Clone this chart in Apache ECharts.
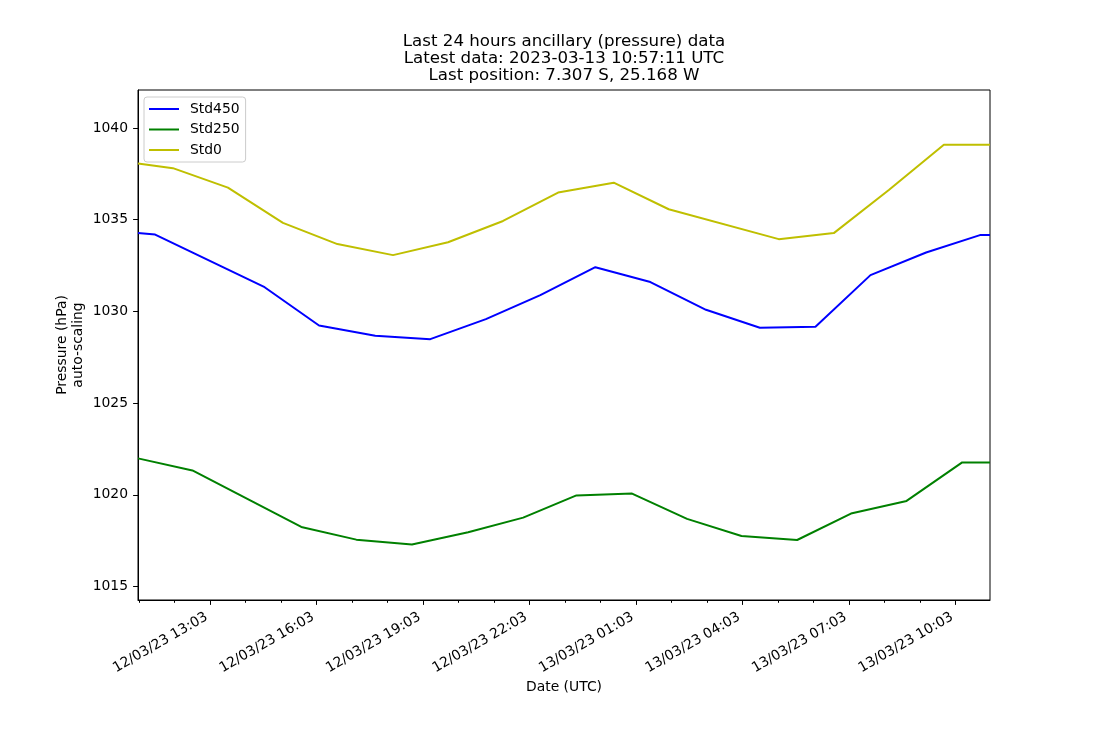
<!DOCTYPE html>
<html>
<head>
<meta charset="utf-8">
<script src="https://cdn.jsdelivr.net/npm/echarts@6/dist/echarts.min.js"></script>
<style>
  html, body { margin: 0; padding: 0; background: #fff; }
  #chart { width: 1100px; height: 750px; }
</style>
</head>
<body>
<div id="chart"></div>
<script>
// ---- Data (times in UTC) ----
const xRange = ['2023-03-12 11:01', '2023-03-13 11:01'];

const std450Times = ['2023-03-12 11:01', '2023-03-12 11:30', '2023-03-12 14:35', '2023-03-12 16:07',
  '2023-03-12 17:42', '2023-03-12 19:15', '2023-03-12 20:49', '2023-03-12 22:21', '2023-03-12 23:54',
  '2023-03-13 01:27', '2023-03-13 03:01', '2023-03-13 04:32', '2023-03-13 06:06', '2023-03-13 07:39',
  '2023-03-13 09:13', '2023-03-13 10:44', '2023-03-13 11:01'];
const std450Values = [1034.27, 1034.19, 1031.32, 1029.23, 1028.67, 1028.49, 1029.58, 1030.89, 1032.41,
  1031.60, 1030.09, 1029.11, 1029.16, 1031.98, 1033.21, 1034.16, 1034.16];

const std250Times = ['2023-03-12 11:01', '2023-03-12 12:33', '2023-03-12 15:37', '2023-03-12 17:10',
  '2023-03-12 18:44', '2023-03-12 20:19', '2023-03-12 21:52', '2023-03-12 23:22', '2023-03-13 00:56',
  '2023-03-13 02:29', '2023-03-13 04:01', '2023-03-13 05:35', '2023-03-13 07:06', '2023-03-13 08:40',
  '2023-03-13 10:14', '2023-03-13 11:01'];
const std250Values = [1021.99, 1021.33, 1018.25, 1017.56, 1017.30, 1017.96, 1018.76, 1019.97, 1020.07,
  1018.69, 1017.76, 1017.54, 1018.98, 1019.67, 1021.77, 1021.77];

const std0Times = ['2023-03-12 11:01', '2023-03-12 12:00', '2023-03-12 13:33', '2023-03-12 15:06',
  '2023-03-12 16:38', '2023-03-12 18:12', '2023-03-12 19:45', '2023-03-12 21:18', '2023-03-12 22:51',
  '2023-03-13 00:25', '2023-03-13 01:58', '2023-03-13 05:04', '2023-03-13 06:37', '2023-03-13 08:10',
  '2023-03-13 09:43', '2023-03-13 11:01'];
const std0Values = [1038.06, 1037.81, 1036.75, 1034.83, 1033.67, 1033.07, 1033.77, 1034.93, 1036.48,
  1037.02, 1035.57, 1033.94, 1034.27, 1036.62, 1039.09, 1039.09];

const xMajorTicks = ['2023-03-12 13:03', '2023-03-12 16:03', '2023-03-12 19:03', '2023-03-12 22:03',
  '2023-03-13 01:03', '2023-03-13 04:03', '2023-03-13 07:03', '2023-03-13 10:03'];
const xMajorLabels = ['12/03/23 13:03', '12/03/23 16:03', '12/03/23 19:03', '12/03/23 22:03',
  '13/03/23 01:03', '13/03/23 04:03', '13/03/23 07:03', '13/03/23 10:03'];
const xMinorTicks = ['2023-03-12 11:03', '2023-03-12 12:03', '2023-03-12 13:03', '2023-03-12 14:03',
  '2023-03-12 15:03', '2023-03-12 16:03', '2023-03-12 17:03', '2023-03-12 18:03', '2023-03-12 19:03',
  '2023-03-12 20:03', '2023-03-12 21:03', '2023-03-12 22:03', '2023-03-12 23:03', '2023-03-13 00:03',
  '2023-03-13 01:03', '2023-03-13 02:03', '2023-03-13 03:03', '2023-03-13 04:03', '2023-03-13 05:03',
  '2023-03-13 06:03', '2023-03-13 07:03', '2023-03-13 08:03', '2023-03-13 09:03', '2023-03-13 10:03'];
const yTicks = [1015, 1020, 1025, 1030, 1035, 1040];
const yRange = [1014.27, 1042.07];

const titleLines = ['Last 24 hours ancillary (pressure) data',
  'Latest data: 2023-03-13 10:57:11 UTC',
  'Last position: 7.307 S, 25.168 W'];

// ---- helpers ----
function toH(s) {
  const d = s.split(' ');
  const day = +d[0].slice(8, 10);
  const hm = d[1].split(':').map(Number);
  return (day - 12) * 24 + hm[0] + hm[1] / 60;
}
function pairs(ts, vs) { return ts.map((t, i) => [toH(t), vs[i]]); }
const majorH = xMajorTicks.map(toH);
const labelFor = (v) => {
  for (let i = 0; i < majorH.length; i++) if (Math.abs(majorH[i] - v) < 1e-6) return xMajorLabels[i];
  return '';
};

const FONT = 'DejaVu Sans';
const chart = echarts.init(document.getElementById('chart'), null, { renderer: 'canvas' });
const xmin = toH(xRange[0]), xmax = toH(xRange[1]);

chart.setOption({
  animation: false,
  backgroundColor: '#fff',
  textStyle: { fontFamily: FONT },
  title: {
    text: titleLines.join('\n'),
    left: 564,
    top: 33.5,
    padding: 0,
    textAlign: 'center',
    textStyle: { fontFamily: FONT, fontSize: 16.67, fontWeight: 'normal', color: '#000', lineHeight: 17 }
  },
  legend: {
    orient: 'vertical',
    left: 144,
    top: 97,
    padding: [5, 6, 5, 5],
    itemGap: 6.5,
    itemWidth: 30,
    itemHeight: 2,
    icon: 'rect',
    borderColor: '#cccccc',
    borderWidth: 1,
    borderRadius: 3,
    backgroundColor: 'rgba(255,255,255,0.8)',
    textStyle: { fontFamily: FONT, fontSize: 13.9, color: '#000', lineHeight: 14, padding: [0, 0, 0, 6] },
    data: ['Std450', 'Std250', 'Std0']
  },
  grid: {
    left: 138, right: 110, top: 90, bottom: 150,
    show: true, borderColor: '#000', borderWidth: 1, backgroundColor: 'transparent'
  },
  xAxis: [{
    type: 'value',
    min: xmin, max: xmax,
    name: 'Date (UTC)',
    nameLocation: 'middle',
    nameGap: 80,
    nameMoveOverlap: false,
    nameTextStyle: { fontFamily: FONT, fontSize: 13.9, color: '#000' },
    splitLine: { show: false },
    axisLine: { show: true, lineStyle: { color: '#000', width: 1 } },
    axisTick: { show: true, customValues: majorH, length: 4.9, lineStyle: { color: '#000', width: 1 } },
    axisLabel: {
      customValues: majorH,
      formatter: labelFor,
      rotate: 30,
      margin: 14,
      padding: [0, 4, 0, 0],
      fontFamily: FONT, fontSize: 13.9, color: '#000'
    }
  }, {
    type: 'value',
    min: xmin, max: xmax,
    position: 'bottom',
    gridIndex: 0,
    splitLine: { show: false },
    axisLine: { show: false },
    axisLabel: { show: false },
    axisTick: { show: true, customValues: xMinorTicks.map(toH), length: 2.8, lineStyle: { color: '#000', width: 1 } }
  }],
  yAxis: {
    type: 'value',
    min: yRange[0], max: yRange[1],
    name: 'Pressure (hPa)\nauto-scaling',
    nameLocation: 'middle',
    nameGap: 52,
    nameMoveOverlap: false,
    nameTextStyle: { fontFamily: FONT, fontSize: 13.9, color: '#000', lineHeight: 16 },
    splitLine: { show: false },
    axisLine: { show: true, lineStyle: { color: '#000', width: 1 } },
    axisTick: { show: true, customValues: yTicks, length: 4.9, lineStyle: { color: '#000', width: 1 } },
    axisLabel: { customValues: yTicks, formatter: (v) => String(Math.round(v)), margin: 10,
      fontFamily: FONT, fontSize: 13.9, color: '#000' }
  },
  series: [
    { name: 'Std450', type: 'line', data: pairs(std450Times, std450Values), showSymbol: false, symbol: 'none',
      lineStyle: { color: '#0000ff', width: 2 }, itemStyle: { color: '#0000ff' } },
    { name: 'Std250', type: 'line', data: pairs(std250Times, std250Values), showSymbol: false, symbol: 'none',
      lineStyle: { color: '#008000', width: 2 }, itemStyle: { color: '#008000' } },
    { name: 'Std0', type: 'line', data: pairs(std0Times, std0Values), showSymbol: false, symbol: 'none',
      lineStyle: { color: '#bfbf00', width: 2 }, itemStyle: { color: '#bfbf00' } }
  ]
});
</script>
</body>
</html>
